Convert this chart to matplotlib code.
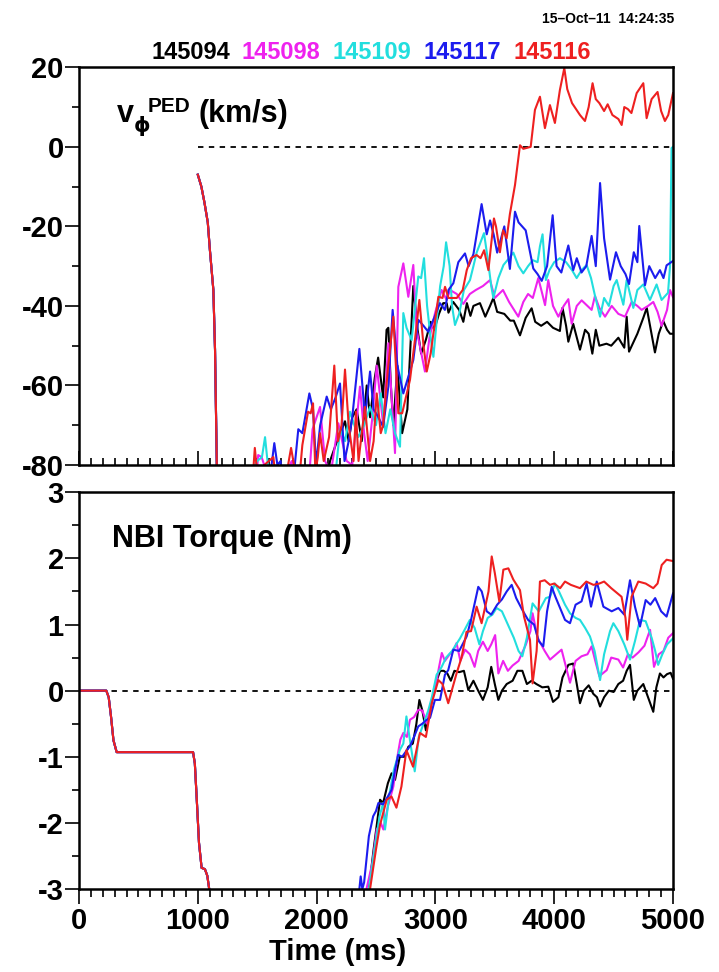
import matplotlib
matplotlib.use("Agg")
import matplotlib.pyplot as plt
from matplotlib.ticker import MultipleLocator

plt.rcParams['font.family'] = ['Liberation Sans', 'DejaVu Sans']
plt.rcParams['font.weight'] = 'bold'
plt.rcParams['axes.unicode_minus'] = False

SHOTS = ['145094', '145098', '145109', '145117', '145116']
COLORS = ['#000000', '#ee22ee', '#22dede', '#1c1cee', '#ee2020']

# --- top panel: pedestal toroidal rotation (km/s) ---
top_start_t = [1000, 1030, 1056, 1084, 1102, 1131, 1145, 1160, 1175]
top_start_v = [-7, -10, -14, -19, -26, -36, -51, -80, -100]

top_t_145094 = [1400, 2080, 2113, 2160, 2200, 2239, 2270, 2300, 2337, 2380, 2422, 2450, 2490, 2518,
                2560, 2589, 2604, 2625, 2646, 2680, 2720, 2764, 2790, 2814, 2850, 2880, 2920, 2960,
                2990, 3030, 3066, 3095, 3110, 3150, 3200, 3235, 3265, 3295, 3320, 3375, 3420, 3460,
                3488, 3520, 3580, 3630, 3660, 3712, 3760, 3810, 3840, 3890, 3940, 3990, 4048, 4070,
                4100, 4119, 4160, 4217, 4260, 4290, 4321, 4350, 4380, 4440, 4480, 4540, 4590, 4610,
                4630, 4700, 4750, 4779, 4848, 4880, 4918, 4950, 4975, 5000]
top_v_145094 = [-100, -85, -79, -75, -72, -69, -74, -68, -66, -74, -60, -68, -58, -53,
                -63, -46, -45.5, -60, -70, -55, -72, -66, -50, -35, -46, -52, -48.5, -44,
                -46, -42, -39.3, -39.3, -41.7, -39, -41, -44, -39.3, -42.5, -40, -39.3, -42.7, -40,
                -38, -41.5, -42, -43.7, -43.7, -47.4, -43, -40.6, -44, -45, -44, -45.5, -46.3, -40.5,
                -45, -49, -44.5, -51, -46, -47, -52, -46, -50, -49.5, -50, -48, -50.5, -42.7,
                -51.5, -47, -43, -40.5, -51.7, -47, -43.8, -46, -47, -47]

top_t_145098 = [1450, 1508, 1537, 1570, 1760, 1790, 1830, 1940, 1966, 2029, 2071, 2120, 2183, 2215,
                2253, 2300, 2365, 2400, 2430, 2470, 2506, 2562, 2604, 2660, 2688, 2730, 2772, 2814,
                2842, 2912, 2950, 2997, 3052, 3095, 3123, 3180, 3235, 3290, 3340, 3400, 3460, 3500,
                3569, 3620, 3698, 3740, 3780, 3820, 3866, 3900, 3923, 3950, 3990, 4035, 4080, 4119,
                4147, 4190, 4231, 4280, 4315, 4343, 4380, 4428, 4484, 4540, 4596, 4652, 4700, 4736,
                4790, 4834, 4870, 4904, 4950, 4975, 5000]
top_v_145098 = [-100, -77.5, -78, -81, -81, -79, -90, -82, -71, -65.4, -79, -82, -69.5, -74,
                -79, -80, -60.3, -72, -79, -67.8, -55, -70.3, -49.4, -77, -35.2, -29.3, -37.7, -29.7,
                -46, -56.5, -48, -41.8, -36, -38.5, -36, -37, -39.5, -37, -36, -35, -33.5, -38,
                -36, -39, -42.7, -39, -37, -38, -33, -37, -39.8, -33.5, -40, -42.7, -40, -38.3,
                -44.5, -40, -38.6, -40, -41, -37.5, -40.5, -42.7, -40, -42, -42.7, -39, -40, -41,
                -40, -39, -41.5, -45, -41, -36, -37.8]

top_t_145109 = [1420, 1440, 1500, 1540, 1566, 1590, 1620, 2150, 2197, 2240, 2281, 2351, 2400, 2450,
                2500, 2540, 2580, 2620, 2660, 2702, 2730, 2757, 2800, 2830, 2856, 2880, 2904, 2930,
                2960, 2983, 3010, 3040, 3070, 3090, 3120, 3140, 3165, 3200, 3240, 3291, 3320, 3347,
                3380, 3409, 3440, 3470, 3488, 3530, 3573, 3620, 3656, 3700, 3740, 3780, 3820, 3860,
                3880, 3902, 3930, 3960, 4000, 4048, 4100, 4150, 4189, 4230, 4273, 4310, 4340, 4386,
                4420, 4460, 4500, 4526, 4582, 4610, 4666, 4700, 4750, 4806, 4862, 4904, 4958, 4975,
                4988, 5000]
top_v_145109 = [-100, -82, -79, -78, -73, -80, -95, -85, -71, -74, -66.6, -73, -70, -65.4,
                -70, -62, -72, -66, -72, -75.4, -41.8, -45.5, -48.6, -40, -32.6, -33, -28, -40,
                -48, -52.8, -44, -35, -30, -24, -30, -40, -44.8, -42, -36, -33.5, -30, -26.6,
                -24, -21.7, -28, -35, -38, -33, -29.7, -28, -26.6, -30, -31.8, -30, -28.5, -29,
                -25, -22, -33.5, -31, -29, -28, -29, -31, -33, -31, -29.7, -33, -37, -42.7,
                -38, -40, -35, -33.5, -39.7, -33.5, -40.5, -36, -34.6, -38.5, -34.6, -38.5, -36.7, -30,
                -0.3, 0]

top_t_145117 = [1500, 1600, 1644, 1670, 1697, 1720, 1800, 1846, 1880, 1939, 1970, 1995, 2030, 2085,
                2120, 2160, 2197, 2235, 2270, 2300, 2360, 2407, 2450, 2480, 2520, 2560, 2604, 2640,
                2680, 2730, 2770, 2814, 2856, 2900, 2940, 2990, 3038, 3080, 3110, 3151, 3193, 3249,
                3280, 3320, 3389, 3432, 3460, 3490, 3520, 3580, 3627, 3670, 3700, 3760, 3824, 3860,
                3895, 3940, 3987, 4020, 4060, 4119, 4160, 4190, 4230, 4270, 4315, 4350, 4386, 4420,
                4470, 4520, 4560, 4600, 4630, 4670, 4700, 4716, 4764, 4800, 4850, 4890, 4920, 4946,
                5000]
top_v_145117 = [-100, -85, -74.5, -80, -79, -90, -85, -71, -72, -62, -66, -80, -70, -62.8,
                -66, -63, -59.5, -79, -74, -68, -50.8, -67.8, -56.5, -66, -68, -70.4, -60.3, -41,
                -55, -62, -58, -53.6, -43.5, -45, -46.5, -43, -39.3, -41, -36, -34.3, -29, -26.8,
                -30, -27, -14.4, -22, -18.5, -22, -26.6, -20, -30.7, -16.3, -19, -21, -30.6, -32,
                -33.7, -30, -17.2, -30, -31.6, -24.8, -31, -28, -31.6, -30, -22.4, -30, -9.1, -23,
                -33.4, -26.5, -30, -32, -34.5, -26.5, -29, -19.9, -34.8, -30, -33, -31, -33, -29.8,
                -28.7]

top_t_145116 = [1440, 1470, 1480, 1500, 1560, 1636, 1680, 1760, 1785, 1810, 1850, 1880, 1928, 1950,
                1970, 1990, 2010, 2029, 2060, 2105, 2149, 2180, 2210, 2239, 2270, 2311, 2331, 2353,
                2380, 2407, 2450, 2480, 2506, 2540, 2560, 2600, 2646, 2688, 2720, 2786, 2830, 2865,
                2900, 2927, 2960, 3025, 3060, 3081, 3110, 3180, 3230, 3264, 3300, 3347, 3380, 3410,
                3446, 3493, 3510, 3543, 3570, 3600, 3627, 3670, 3712, 3740, 3802, 3838, 3880, 3922,
                3964, 4006, 4048, 4085, 4110, 4150, 4217, 4259, 4290, 4323, 4350, 4380, 4420, 4450,
                4490, 4540, 4568, 4590, 4620, 4650, 4694, 4750, 4778, 4820, 4870, 4900, 4932, 4960,
                5000]
top_v_145116 = [-100, -80, -75.7, -82, -80, -78, -90, -80, -75.7, -80, -85, -75, -66.6, -67,
                -64.5, -82, -78, -72, -79, -73, -55, -74, -70, -56, -70, -79, -66.6, -79,
                -72, -65.4, -79, -74, -62, -72, -70, -56, -42.7, -67, -67, -58.6, -48, -38.5,
                -50, -56.5, -52, -37.7, -38, -35.2, -38, -38, -36, -31, -28, -27.2, -28, -26,
                -31, -18, -20, -26.5, -21, -23, -16.9, -9.6, 0.4, -0.5, 0, 9.3, 12.6, 4.7,
                10.5, 6, 14.3, 19.8, 14.5, 11, 8, 6.5, 10, 16, 12, 11, 9, 10.7,
                8, 7, 5.5, 10, 9.5, 8.5, 13.5, 16, 7.2, 12, 13.8, 9, 6.5, 8,
                13.5]

# --- bottom panel: NBI torque (Nm) ---
bot_start_t = [0, 230, 250, 270, 290, 317, 340, 960, 975, 990, 1010, 1032, 1060, 1080, 1100, 1120]
bot_start_v = [0, 0, -0.1, -0.4, -0.75, -0.93, -0.93, -0.93, -1.1, -1.6, -2.3, -2.68, -2.7, -2.8, -3.05, -3.3]

bot_t_145094 = [2400, 2440, 2480, 2534, 2560, 2600, 2631, 2660, 2700, 2740, 2772, 2810, 2840, 2865,
                2890, 2920, 2960, 3000, 3040, 3070, 3100, 3130, 3160, 3200, 3240, 3277, 3320, 3360,
                3400, 3440, 3470, 3500, 3530, 3560, 3600, 3650, 3690, 3732, 3770, 3810, 3850, 3900,
                3950, 3990, 4035, 4070, 4119, 4160, 4190, 4217, 4250, 4290, 4330, 4360, 4386, 4420,
                4460, 4500, 4540, 4580, 4610, 4638, 4670, 4700, 4750, 4790, 4834, 4860, 4890, 4920,
                4950, 4980, 5000]
bot_v_145094 = [-3.3, -3, -2.4, -1.65, -1.7, -1.4, -1.25, -1.35, -1.0, -1.0, -0.85, -0.8, -0.5, -0.14,
                -0.3, -0.6, -0.25, 0.1, 0.3, 0.3, 0.26, 0.15, 0.3, 0.28, 0.3, 0.01, 0.15, 0.0,
                -0.14, 0.05, 0.36, 0.1, -0.14, 0.0, 0.1, 0.15, 0.3, 0.3, 0.1, 0.15, 0.1, 0.05,
                0.06, -0.17, -0.1, 0.2, 0.39, 0.41, 0.1, -0.19, 0.0, 0.08, -0.05, -0.1, -0.24, -0.1,
                0.0, -0.02, 0.1, 0.15, 0.3, 0.39, -0.14, 0.0, 0.1, -0.1, -0.32, 0.05, 0.26, 0.2,
                0.25, 0.27, 0.18]

bot_t_145098 = [2380, 2420, 2470, 2506, 2540, 2562, 2600, 2646, 2680, 2705, 2730, 2760, 2786, 2820,
                2856, 2890, 2930, 2960, 2996, 3030, 3054, 3080, 3120, 3150, 3178, 3210, 3250, 3290,
                3330, 3360, 3400, 3440, 3470, 3503, 3530, 3570, 3610, 3650, 3700, 3760, 3800, 3818,
                3860, 3920, 3965, 4062, 4133, 4180, 4230, 4280, 4315, 4350, 4380, 4442, 4480, 4540,
                4580, 4620, 4660, 4710, 4760, 4807, 4840, 4880, 4920, 4960, 5000]
bot_v_145098 = [-3.3, -3, -2.6, -2.1, -2.0, -2.1, -1.75, -1.45, -1.0, -0.74, -0.64, -0.7, -0.44, -0.4,
                -0.29, -0.3, -0.5, -0.2, 0.01, 0.35, 0.57, 0.45, 0.55, 0.6, 0.72, 0.45, 0.62, 0.55,
                0.36, 0.6, 0.74, 0.6, 0.7, 0.84, 0.26, 0.45, 0.3, 0.38, 0.45, 0.69, 0.9, 1.17,
                0.8, 0.6, 0.47, 0.62, 0.12, 0.45, 0.52, 0.55, 0.67, 0.42, 0.22, 0.31, 0.5, 0.47,
                0.35, 0.55, 0.5, 0.58, 0.68, 0.92, 0.36, 0.55, 0.6, 0.8, 0.87]

bot_t_145109 = [2400, 2440, 2480, 2530, 2560, 2576, 2610, 2650, 2700, 2730, 2756, 2790, 2826, 2860,
                2900, 2940, 2970, 3010, 3050, 3090, 3140, 3207, 3240, 3290, 3330, 3370, 3400, 3440,
                3480, 3515, 3560, 3610, 3660, 3700, 3732, 3770, 3818, 3870, 3930, 3965, 4007, 4040,
                4091, 4133, 4180, 4217, 4260, 4301, 4340, 4386, 4420, 4470, 4498, 4540, 4590, 4638,
                4680, 4722, 4770, 4820, 4850, 4875, 4910, 4950, 5000]
bot_v_145109 = [-3.3, -3, -2.5, -1.9, -1.7, -2.1, -1.6, -1.2, -0.9, -0.8, -0.39, -0.8, -1.22, -0.7,
                -0.5, -0.3, -0.1, 0.24, 0.35, 0.5, 0.6, 0.79, 0.9, 1.07, 0.95, 0.7, 0.9, 1.1,
                1.15, 1.25, 1.2, 1.0, 0.8, 0.6, 0.52, 0.8, 1.32, 1.2, 1.4, 1.42, 1.62, 1.5,
                1.3, 1.17, 1.1, 1.07, 0.95, 0.82, 0.6, 0.16, 0.55, 0.9, 1.02, 0.9, 0.7, 0.47,
                0.75, 1.07, 1.05, 0.8, 0.6, 0.39, 0.55, 0.7, 0.79]

bot_t_145117 = [2330, 2360, 2371, 2385, 2400, 2440, 2476, 2500, 2520, 2560, 2600, 2631, 2660, 2687,
                2720, 2760, 2786, 2820, 2856, 2890, 2920, 2955, 2996, 3039, 3080, 3108, 3151, 3200,
                3263, 3300, 3361, 3390, 3432, 3470, 3520, 3560, 3600, 3642, 3680, 3732, 3780, 3830,
                3870, 3908, 3940, 3979, 4010, 4091, 4133, 4180, 4230, 4273, 4310, 4358, 4414, 4484,
                4540, 4590, 4638, 4680, 4722, 4770, 4810, 4850, 4900, 4946, 5000]
bot_v_145117 = [-3.3, -3, -2.81, -3.0, -2.9, -2.2, -1.9, -1.82, -1.7, -1.72, -1.6, -1.5, -1.2, -0.97,
                -1.0, -0.9, -0.84, -0.7, -0.54, -0.5, -0.45, -0.41, -0.14, -0.14, 0.24, 0.31, 0.62, 0.6,
                0.82, 1.07, 1.57, 1.5, 1.2, 1.15, 1.3, 1.38, 1.5, 1.6, 1.4, 1.22, 1.07, 1.0,
                0.75, 0.67, 1.2, 1.57, 1.42, 1.07, 1.02, 1.3, 1.35, 1.62, 1.27, 1.65, 1.27, 1.2,
                1.25, 1.15, 1.67, 1.27, 0.97, 1.37, 1.3, 1.4, 1.2, 1.12, 1.47]

bot_t_145116 = [2420, 2450, 2500, 2534, 2590, 2630, 2672, 2714, 2756, 2812, 2870, 2920, 2969, 3025,
                3060, 3108, 3178, 3220, 3262, 3300, 3347, 3389, 3447, 3474, 3500, 3538, 3572, 3614,
                3656, 3712, 3746, 3796, 3818, 3852, 3880, 3920, 3965, 4000, 4050, 4091, 4140, 4217,
                4270, 4330, 4380, 4420, 4480, 4567, 4600, 4615, 4651, 4708, 4770, 4834, 4870, 4905,
                4946, 5000]
bot_v_145116 = [-3.3, -3, -2.4, -2.03, -1.65, -1.6, -1.77, -1.45, -0.9, -1.15, -0.64, -0.7, -0.19, 0.16,
                0.1, -0.19, 0.26, 0.5, 0.89, 0.9, 1.27, 1.02, 1.5, 2.03, 1.78, 1.35, 1.83, 1.85,
                1.68, 1.52, 1.12, 0.77, 0.11, 0.6, 1.65, 1.67, 1.6, 1.62, 1.55, 1.65, 1.6, 1.55,
                1.65, 1.6, 1.62, 1.65, 1.55, 1.42, 1.1, 0.77, 1.42, 1.65, 1.62, 1.55, 1.62, 1.9,
                1.98, 1.96]

TOP_SERIES = [(top_t_145094, top_v_145094), (top_t_145098, top_v_145098), (top_t_145109, top_v_145109),
              (top_t_145117, top_v_145117), (top_t_145116, top_v_145116)]
BOT_SERIES = [(bot_t_145094, bot_v_145094), (bot_t_145098, bot_v_145098), (bot_t_145109, bot_v_145109),
              (bot_t_145117, bot_v_145117), (bot_t_145116, bot_v_145116)]

W, H = 719, 972
fig = plt.figure(figsize=(W / 100, H / 100), dpi=100)

# axes boxes in pixel units -> figure fractions
ax1 = fig.add_axes([79 / W, 1 - 465 / H, 594 / W, 397.7 / H])
ax2 = fig.add_axes([79 / W, 1 - 889 / H, 594 / W, 396.7 / H])

for (t, v), c in zip(TOP_SERIES, COLORS):
    ax1.plot(top_start_t + t, top_start_v + v, color=c, lw=1.5)
for (t, v), c in zip(BOT_SERIES, COLORS):
    ax2.plot(bot_start_t + t, bot_start_v + v, color=c, lw=1.5)

ax1.hlines(0, 1000, 5000, colors='k', linestyles=(0, (3, 3)), lw=1.3, zorder=1)
ax2.hlines(0, 0, 5000, colors='k', linestyles=(0, (3, 3)), lw=1.3, zorder=1)

ax1.set_xlim(0, 5000)
ax1.set_ylim(-80, 20)
ax2.set_xlim(0, 5000)
ax2.set_ylim(-3, 3)

for ax in (ax1, ax2):
    for sp in ax.spines.values():
        sp.set_linewidth(1.8)
    ax.xaxis.set_major_locator(MultipleLocator(1000))
    ax.xaxis.set_minor_locator(MultipleLocator(100))
    ax.tick_params(axis='y', which='both', direction='out', left=True, right=False,
                   labelsize=21, pad=1, width=1.2)
    ax.tick_params(axis='y', which='major', length=10)
    ax.tick_params(axis='y', which='minor', length=5)

ax1.yaxis.set_major_locator(MultipleLocator(20))
ax1.yaxis.set_minor_locator(MultipleLocator(10))
ax2.yaxis.set_major_locator(MultipleLocator(1))
ax2.yaxis.set_minor_locator(MultipleLocator(0.5))

ax1.tick_params(axis='x', which='both', direction='in', top=False, labelbottom=False, width=1.2)
ax1.tick_params(axis='x', which='major', length=10)
ax1.tick_params(axis='x', which='minor', length=5)
ax2.tick_params(axis='x', which='both', direction='out', top=False, labelsize=21, pad=2, width=1.2)
ax2.tick_params(axis='x', which='major', length=11)
ax2.tick_params(axis='x', which='minor', length=5.5)


def px(x, y):
    return x / W, 1 - y / H


# header: shot numbers and date stamp
for shot, c, xc in zip(SHOTS, COLORS, [191, 281, 371.5, 462, 552.5]):
    fig.text(*px(xc, 59), shot, color=c, fontsize=17, ha='center', va='baseline')
fig.text(*px(674, 23), '15\u2013Oct\u201311  14:24:35', fontsize=10, ha='right', va='baseline')

# panel labels
fig.text(*px(117, 122), 'v', fontsize=22, va='baseline')
fig.text(*px(134, 132), '\u03d5', fontsize=15, va='baseline', family=['DejaVu Sans'])
fig.text(*px(148, 112), 'PED', fontsize=15, va='baseline')
fig.text(*px(198, 122), '(km/s)', fontsize=22, va='baseline')
fig.text(*px(112, 547), 'NBI Torque (Nm)', fontsize=22, va='baseline')

fig.text(*px(338, 960), 'Time (ms)', fontsize=21, ha='center', va='baseline')

fig.savefig('out.png', dpi=100)
